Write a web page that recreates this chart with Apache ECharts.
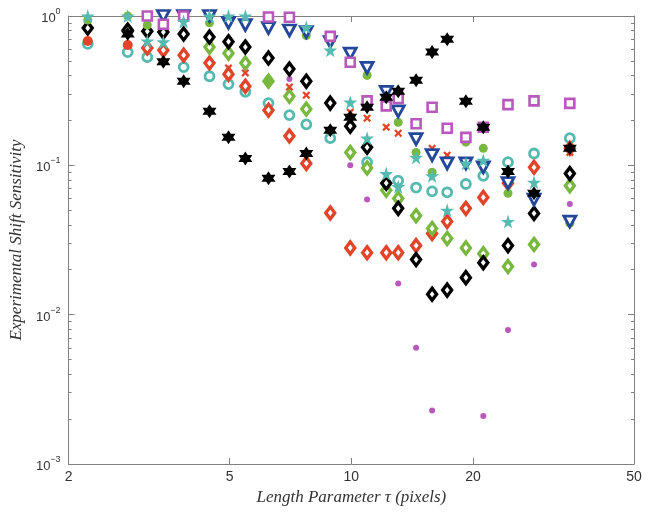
<!DOCTYPE html>
<html>
<head>
<meta charset="utf-8">
<script src="https://cdn.jsdelivr.net/npm/echarts@6/dist/echarts.min.js"></script>
</head>
<body style="margin:0;background:#fff">
<div id="container" style="width:651px;height:515px"></div>
<script>
// length parameter columns (pixels)
var tau = [2.23, 2.80, 3.13, 3.43, 3.85, 4.46, 4.97, 5.47, 6.24, 7.03, 7.74, 8.87,
           9.94, 10.94, 12.2, 13.06, 14.46, 15.84, 17.26, 19.2, 21.2, 24.4, 28.3, 34.7];

// sensitivity per column, null = no marker
var magSquare = [null, null, 1.0, 0.88, 1.0, null, null, null, 0.985, 0.98, null, 0.73,
                 0.49, 0.27, 0.25, 0.28, 0.19, 0.245, 0.177, 0.154, 0.18, 0.255, 0.27, 0.26];
var blueTri = [null, null, null, 1.0, 1.0, 1.0, 0.90, 0.87, 0.83, 0.80, 0.78, 0.67,
               0.56, 0.45, 0.31, 0.23, 0.15, 0.117, 0.103, 0.103, 0.097, 0.076, 0.059, 0.042];
var tealStar = [1.0, 1.0, 0.68, 0.67, 0.92, 1.0, 1.0, 1.0, null, null, 0.84, 0.59,
                0.265, 0.152, 0.088, 0.072, 0.113, 0.085, 0.050, 0.103, 0.108, 0.042, 0.077, null];
var greenDot = [0.94, 1.0, 0.87, null, null, 0.90, null, null, 0.37, null, 0.74, 0.172,
                null, 0.40, null, 0.194, 0.122, 0.09, null, 0.143, 0.130, 0.065, null, 0.041];
var blackDiamond = [0.83, 0.805, 0.79, 0.78, 0.757, 0.723, 0.673, 0.62, 0.523, 0.441, 0.366, 0.261,
                    0.183, 0.132, 0.076, 0.0515, 0.0234, 0.0137, 0.0146, 0.0177, 0.0223, 0.029, 0.0476, 0.088];
var greenDiamond = [null, null, null, null, null, 0.619, 0.564, 0.484, 0.366, 0.290, 0.238, null,
                    0.122, 0.096, 0.068, 0.060, 0.046, 0.0378, 0.0324, 0.028, 0.0256, 0.021, 0.0295, 0.073];
var redDiamond = [null, null, 0.61, 0.59, 0.547, 0.484, 0.408, 0.339, 0.234, 0.157, 0.103, 0.048,
                  0.028, 0.026, 0.026, 0.026, 0.029, 0.035, 0.042, 0.0515, 0.061, 0.076, 0.097, 0.130];
var redDot = [0.68, 0.64, null, null, null, null, null, null, null, null, null, null,
              null, null, null, null, null, null, null, null, null, null, null, null];
var tealCircle = [0.65, 0.573, 0.53, null, 0.455, 0.395, 0.35, 0.311, 0.261, 0.217, 0.188, 0.152,
                  null, 0.105, null, 0.079, 0.071, 0.067, 0.066, 0.075, 0.085, 0.105, 0.120, 0.152];
var redX = [null, null, null, null, null, null, 0.448, 0.416, null, 0.334, 0.295, null,
            0.227, 0.207, 0.180, 0.164, null, 0.130, 0.117, null, null, null, null, 0.122];
var blackHex = [null, 0.757, null, 0.494, 0.366, 0.23, 0.154, 0.111, 0.082, 0.091, 0.120, 0.172,
                0.21, 0.245, 0.286, 0.314, 0.372, 0.573, 0.70, 0.269, 0.18, 0.091, 0.065, 0.13];
var magDot = [null, null, null, null, null, null, null, null, null, 0.378, null, null,
              0.100, 0.059, null, 0.0162, 0.0060, 0.00228, null, null, 0.0021, 0.0079, 0.0217, 0.055];

var xLabels = [2, 5, 10, 20, 50];
var xTicks = [5, 10, 20];

function pts(arr) {
    var out = [];
    arr.forEach(function (v, i) { if (v != null) out.push([tau[i], v]); });
    return out;
}

var minorY = [];
[0.001, 0.01, 0.1].forEach(function (d) {
    for (var k = 2; k <= 9; k++) minorY.push(+(d * k).toPrecision(3));
});

var STAR = 'path://M50,0L61,35L98,35L68,57L79,91L50,70L21,91L32,57L2,35L39,35Z';
var HEX = 'path://M50,0L64.4,25L93.3,25L78.9,50L93.3,75L64.4,75L50,100L35.6,75L6.7,75L21.1,50L6.7,25L35.6,25Z';
var CROSS = 'path://M2,0L5,3L8,0L10,2L7,5L10,8L8,10L5,7L2,10L0,8L3,5L0,2Z';

var red = '#e2442a', green = '#78b83e', teal = '#55bab0', mag = '#b958bc', blue = '#24479a';
var frame = '#808080';

function sc(name, arr, symbol, size, style, extra) {
    style.opacity = 1;
    var s = {
        name: name, type: 'scatter', data: pts(arr),
        symbol: symbol, symbolSize: size, itemStyle: style,
        xAxisIndex: 0, yAxisIndex: 0, silent: true
    };
    for (var k in extra || {}) s[k] = extra[k];
    return s;
}

var dom = document.getElementById('container');
var myChart = echarts.init(dom);

var yLabel = {
    show: true, color: '#333', margin: 8,
    formatter: function (v) {
        var e = Math.round(Math.log(v) / Math.LN10);
        return '{b|10}{s|' + (e < 0 ? '\u2212' + (-e) : e) + '}';
    },
    rich: {
        b: { fontSize: 13, fontFamily: 'Liberation Sans', color: '#333', lineHeight: 18, verticalAlign: 'bottom' },
        s: { fontSize: 9, fontFamily: 'Liberation Sans', color: '#333', lineHeight: 18, verticalAlign: 'top' }
    }
};

function yAx(pos, minor, withLabel) {
    return {
        type: 'log', logBase: 10, min: 0.001, max: 1, position: pos,
        axisLine: { show: !minor, lineStyle: { color: frame, width: 1 } },
        axisTick: minor
            ? { show: true, inside: true, length: 3, lineStyle: { color: frame }, customValues: minorY }
            : { show: true, inside: true, length: 6, lineStyle: { color: frame } },
        axisLabel: withLabel ? yLabel : { show: false },
        splitLine: { show: false }, minorTick: { show: false }
    };
}

var option = {
    backgroundColor: '#fff',
    animation: false,
    grid: { left: 68, right: 17, top: 16, bottom: 51, containLabel: false },
    xAxis: [{
        type: 'log', logBase: 10, min: 2, max: 50, position: 'bottom',
        name: 'Length Parameter \u03c4 (pixels)', nameLocation: 'middle', nameGap: 24,
        nameTextStyle: { fontFamily: 'Liberation Serif', fontStyle: 'italic', fontSize: 17, color: '#333' },
        axisLine: { lineStyle: { color: frame, width: 1 } },
        axisTick: { inside: true, length: 6, lineStyle: { color: frame }, customValues: xTicks },
        axisLabel: { customValues: xLabels, color: '#333', fontSize: 14, fontFamily: 'Liberation Sans', margin: 6,
                     showMinLabel: true, showMaxLabel: true },
        splitLine: { show: false }
    }, {
        type: 'log', logBase: 10, min: 2, max: 50, position: 'top',
        axisLine: { lineStyle: { color: frame, width: 1 } },
        axisTick: { inside: true, length: 6, lineStyle: { color: frame }, customValues: xTicks },
        axisLabel: { show: false },
        splitLine: { show: false }
    }],
    yAxis: [
        (function () {
            var a = yAx('left', false, true);
            a.name = 'Experimental Shift Sensitivity';
            a.nameLocation = 'middle';
            a.nameGap = 42;
            a.nameTextStyle = { fontFamily: 'Liberation Serif', fontStyle: 'italic', fontSize: 17, color: '#333' };
            return a;
        })(),
        yAx('left', true, false),
        yAx('right', false, false),
        yAx('right', true, false)
    ],
    series: [
        sc('magDot', magDot, 'circle', 6, { color: mag }),
        sc('tealCircle', tealCircle, 'circle', 9, { color: '#fff', borderColor: teal, borderWidth: 2.8 }),
        sc('redDiamond', redDiamond, 'diamond', [9, 12], { color: '#fff', borderColor: red, borderWidth: 3.4 }),
        sc('greenDiamond', greenDiamond, 'diamond', [9, 12], { color: '#fff', borderColor: green, borderWidth: 3.4 }),
        sc('blackDiamond', blackDiamond, 'diamond', [9, 12], { color: '#fff', borderColor: '#000', borderWidth: 3.4 }),
        sc('redDot', redDot, 'circle', 10, { color: red }),
        sc('redX', redX, CROSS, 8, { color: red }),
        sc('greenDot', greenDot, 'circle', 9, { color: green }),
        sc('blueTri', blueTri, 'triangle', [12, 11], { color: '#fff', borderColor: blue, borderWidth: 2.8 }, { symbolRotate: 180 }),
        sc('magSquare', magSquare, 'rect', 9, { color: '#fff', borderColor: mag, borderWidth: 2.6 }),
        sc('tealStar', tealStar, STAR, 14, { color: teal }),
        sc('blackHex', blackHex, HEX, 14, { color: '#000' })
    ]
};
myChart.setOption(option);
</script>
</body>
</html>
